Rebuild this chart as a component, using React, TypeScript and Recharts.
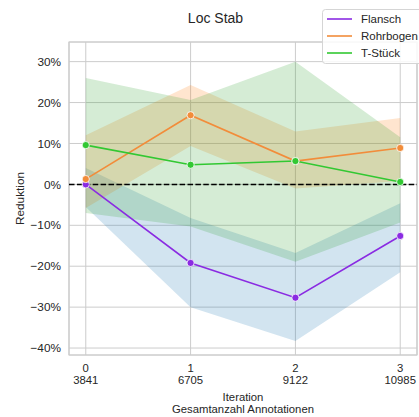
import {
  Area,
  CartesianGrid,
  ComposedChart,
  Line,
  ReferenceArea,
  ReferenceLine,
  XAxis,
  YAxis,
} from "recharts";

const iterations = [0, 1, 2, 3];
const annotations = ["3841", "6705", "9122", "10985"];

const flansch = [0, -0.192, -0.277, -0.126];
const flanschLow = [-0.055, -0.3, -0.383, -0.215];
const flanschHigh = [0.04, -0.082, -0.168, -0.046];

const rohrbogen = [0.013, 0.169, 0.057, 0.089];
const rohrbogenLow = [-0.058, 0.094, -0.01, 0.008];
const rohrbogenHigh = [0.12, 0.243, 0.129, 0.162];

const tstueck = [0.096, 0.048, 0.057, 0.006];
const tstueckLow = [-0.07, -0.103, -0.189, -0.093];
const tstueckHigh = [0.26, 0.206, 0.3, 0.115];

const yTicks = [-0.4, -0.3, -0.2, -0.1, 0, 0.1, 0.2, 0.3];

const series = [
  { name: "Flansch", key: "flansch", color: "#8a2be2" },
  { name: "Rohrbogen", key: "rohrbogen", color: "#f28c3a" },
  { name: "T-Stück", key: "tstueck", color: "#32c832" },
];

const data = iterations.map((it, i) => ({
  iteration: it,
  flansch: flansch[i],
  rohrbogen: rohrbogen[i],
  tstueck: tstueck[i],
  flanschBand: [flanschLow[i], flanschHigh[i]],
  rohrbogenBand: [rohrbogenLow[i], rohrbogenHigh[i]],
  tstueckBand: [tstueckLow[i], tstueckHigh[i]],
}));

const FONT = "'Liberation Sans', Arial, sans-serif";
const TEXT = "#262626";
const GRID = "#cccccc";

const pct = (v: number) => `${Math.round(v * 100)}%`.replace("-", "\u2212");

function XTick(props: any) {
  const { x, y, payload } = props;
  const idx = iterations.indexOf(payload.value);
  return (
    <g>
      <text x={x} y={y + 9} textAnchor="middle" fontSize={11.3} fill={TEXT} fontFamily={FONT}>
        {payload.value}
      </text>
      <text x={x} y={y + 21.4} textAnchor="middle" fontSize={11.3} fill={TEXT} fontFamily={FONT}>
        {annotations[idx]}
      </text>
    </g>
  );
}

export default function App() {
  return (
    <div style={{ position: "absolute", left: 0, top: 0, width: 419, height: 417, background: "#fff" }}>
      <ComposedChart
        width={419}
        height={417}
        data={data}
        margin={{ top: 42, right: 2, bottom: 32, left: 9 }}
      >
        <CartesianGrid stroke={GRID} strokeWidth={1} />
        <XAxis
          dataKey="iteration"
          type="number"
          domain={[-0.16, 3.16]}
          ticks={iterations}
          axisLine={false}
          tickLine={false}
          height={30}
          tick={<XTick />}
        />
        <YAxis
          type="number"
          domain={[-0.417, 0.348]}
          ticks={yTicks}
          axisLine={false}
          tickLine={false}
          width={60}
          tickFormatter={pct}
          tick={{ fontSize: 11.8, fill: TEXT, fontFamily: FONT }}
        />
        <ReferenceArea
          x1={-0.16}
          x2={3.16}
          y1={-0.417}
          y2={0.348}
          fill="none"
          stroke={GRID}
          strokeWidth={1.2}
        />
        <Area type="linear" dataKey="flanschBand" stroke="none" fill="#1f77b4" fillOpacity={0.2} isAnimationActive={false} />
        <Area type="linear" dataKey="rohrbogenBand" stroke="none" fill="#ff7f0e" fillOpacity={0.2} isAnimationActive={false} />
        <Area type="linear" dataKey="tstueckBand" stroke="none" fill="#2ca02c" fillOpacity={0.2} isAnimationActive={false} />
        {series.map((s) => (
          <Line
            key={s.key}
            type="linear"
            dataKey={s.key}
            stroke={s.color}
            strokeWidth={1.6}
            dot={{ r: 3.6, fill: s.color, stroke: "#fff", strokeWidth: 0.8 }}
            activeDot={false}
            isAnimationActive={false}
          />
        ))}
        <ReferenceLine y={0} stroke="#000" strokeWidth={1.5} strokeDasharray="5.5 2.4" />
      </ComposedChart>
      <svg
        width={419}
        height={417}
        style={{ position: "absolute", left: 0, top: 0, pointerEvents: "none" }}
        fontFamily={FONT}
      >
        <text x={215.5} y={23} textAnchor="middle" fontSize={14} fill={TEXT}>
          Loc Stab
        </text>
        <text x={243} y={400.5} textAnchor="middle" fontSize={11.3} fill={TEXT}>
          Iteration
        </text>
        <text x={243} y={413} textAnchor="middle" fontSize={11.3} fill={TEXT}>
          Gesamtanzahl Annotationen
        </text>
        <text
          x={24}
          y={198.5}
          textAnchor="middle"
          fontSize={11.8}
          fill={TEXT}
          transform="rotate(-90 24 198.5)"
        >
          Reduktion
        </text>
        <rect x={322.5} y={9.5} width={110} height={54} rx={3} fill="#fff" fillOpacity={0.85} stroke="#d5d5d5" />
        {series.map((s, i) => (
          <g key={s.key}>
            <line x1={327} x2={352} y1={19 + i * 17} y2={19 + i * 17} stroke={s.color} strokeWidth={1.6} />
            <text x={361} y={23 + i * 17} fontSize={11.5} fill={TEXT}>
              {s.name}
            </text>
          </g>
        ))}
      </svg>
    </div>
  );
}
